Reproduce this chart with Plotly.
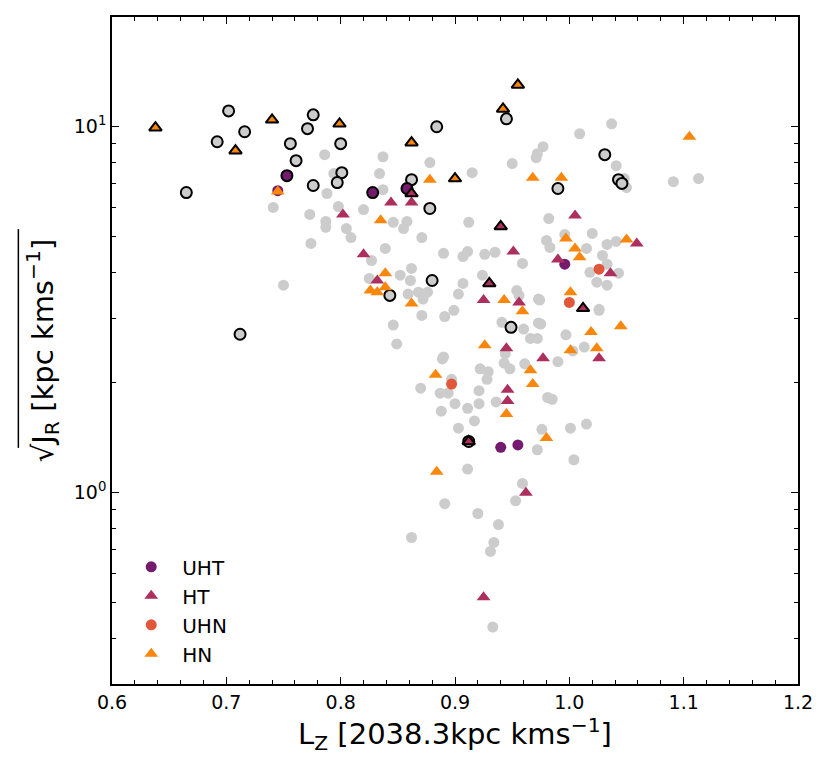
import plotly.graph_objects as go

# ---- background sample (light grey) ----
grey_lz = [0.786, 0.794, 0.788, 0.741, 0.773, 0.798, 0.820, 0.787, 0.787, 0.805,
           0.809, 0.774, 0.750, 0.837, 0.834, 0.837, 0.846, 0.858, 0.855, 0.871,
           0.839, 0.890, 0.827, 0.862, 0.852, 0.825, 0.861, 0.859, 0.868, 0.872,
           0.876, 0.871, 0.891, 0.846, 0.849, 0.878, 0.915, 0.950, 0.977, 0.972,
           0.971, 1.009, 1.037, 1.041, 0.912, 0.982, 0.980, 0.983, 1.020, 1.033,
           1.041, 0.911, 0.907, 0.926, 0.935, 0.959, 1.015, 1.029, 1.033, 1.018,
           1.043, 1.024, 1.033, 0.924, 0.907, 0.903, 0.954, 0.956, 0.973, 1.026,
           0.899, 0.941, 0.973, 0.960, 0.966, 0.972, 0.974, 0.975, 0.997, 0.944,
           0.890, 0.889, 1.003, 1.013, 0.990, 0.943, 0.948, 0.961, 0.922, 0.929,
           0.928, 0.870, 0.887, 0.894, 0.897, 0.921, 0.900, 0.911, 0.921, 0.888,
           0.936, 0.981, 0.985, 0.917, 0.903, 0.976, 1.001, 1.015, 0.972, 1.004,
           0.911, 0.959, 0.953, 0.891, 0.920, 0.938, 0.934, 0.931, 0.862, 0.933,
           1.091, 1.113, 1.048, 1.050, 1.026, 0.996]
grey_jr = [8.39, 7.45, 6.57, 6.02, 5.76, 6.05, 5.94, 5.51, 5.31, 5.27,
           4.98, 4.80, 3.69, 8.28, 7.45, 6.73, 5.48, 5.51, 5.27, 4.98,
           4.65, 4.51, 4.31, 4.10, 3.93, 3.85, 3.80, 3.49, 3.53, 3.38,
           3.53, 3.05, 3.03, 2.87, 2.55, 7.98, 7.49, 7.93, 8.82, 8.44,
           8.23, 9.57, 10.19, 7.83, 5.48, 5.61, 4.89, 4.68, 5.11, 4.77,
           4.86, 4.56, 4.42, 4.48, 4.54, 4.23, 4.65, 4.45, 4.21, 4.00,
           3.98, 3.76, 3.69, 3.93, 3.73, 3.49, 3.57, 3.46, 3.38, 3.15,
           3.15, 2.92, 2.91, 2.80, 2.64, 2.64, 3.36, 2.89, 2.70, 2.40,
           2.35, 2.32, 2.44, 2.50, 2.28, 2.26, 2.18, 2.25, 2.18, 2.14,
           2.04, 1.93, 1.87, 1.87, 2.04, 1.90, 1.75, 1.70, 1.75, 1.67,
           1.77, 1.82, 1.80, 1.57, 1.50, 1.49, 1.50, 1.54, 1.31, 1.23,
           1.16, 1.06, 0.95, 0.933, 0.877, 0.818, 0.731, 0.691, 0.754, 0.429,
           7.08, 7.22, 7.22, 6.82, 3.17, 5.08]

# ---- grey stars with black edge ----
edge_lz = [0.702, 0.692, 0.716, 0.665, 0.712, 0.776, 0.771, 0.756, 0.761, 0.776,
           0.800, 0.801, 0.797, 0.945, 0.884, 0.862, 0.878, 0.880, 0.843, 0.949,
           0.990, 1.031, 1.043, 1.046, 0.912]
edge_jr = [11.05, 9.10, 9.69, 6.61, 2.71, 10.78, 9.88, 8.99, 8.08, 6.91,
           8.99, 7.49, 7.04, 10.51, 10.0, 7.17, 5.98, 3.80, 3.46, 2.83,
           6.78, 8.39, 7.17, 7.00, 1.38]

# ---- classified stars ----
uht_lz = [0.745, 0.996, 0.940, 0.955]
uht_jr = [6.69, 4.21, 1.33, 1.35]
uht_edge_lz = [0.753, 0.828, 0.858]
uht_edge_jr = [7.35, 6.61, 6.78]

ht_lz = [0.802, 0.844, 0.862, 0.820, 0.951, 0.990, 0.832, 0.925, 0.956, 0.945,
         0.977, 1.005, 1.059, 1.036, 1.026, 0.946, 0.946, 0.962, 0.925]
ht_jr = [5.76, 6.21, 6.21, 4.48, 4.56, 4.34, 3.80, 3.36, 3.31, 2.48,
         2.33, 5.72, 4.80, 3.98, 2.33, 1.91, 1.78, 1.00, 0.518]
ht_edge_lz = [0.862, 0.940, 0.930, 1.012, 0.912]
ht_edge_jr = [6.57, 5.34, 3.73, 3.19, 1.38]

uhn_lz = [1.026, 1.000, 0.897]
uhn_jr = [4.08, 3.31, 1.98]

hn_lz = [0.745, 0.878, 0.968, 0.993, 0.835, 0.839, 0.826, 0.832, 0.839, 0.862,
         0.943, 0.959, 0.997, 1.005, 1.009, 1.050, 1.105, 1.001, 1.045, 1.019,
         1.024, 1.001, 0.926, 0.966, 0.968, 0.945, 0.980, 0.883, 0.884]
hn_jr = [6.65, 7.17, 7.26, 7.26, 5.55, 3.98, 3.57, 3.53, 3.64, 3.29,
         3.36, 3.13, 4.95, 4.65, 4.40, 4.92, 9.39, 3.53, 2.85, 2.75,
         2.48, 2.45, 2.53, 2.16, 1.98, 1.64, 1.41, 2.10, 1.14]
hn_edge_lz = [0.638, 0.708, 0.740, 0.799, 0.955, 0.942, 0.862, 0.900]
hn_edge_jr = [9.94, 8.60, 10.45, 10.19, 13.01, 11.19, 9.05, 7.22]

GREY = '#cccccc'
C_UHT = '#751b6d'
C_HT = '#ad2f5e'
C_UHN = '#e0573a'
C_HN = '#fb860c'

fig = go.Figure()

fig.add_trace(go.Scatter(x=grey_lz, y=grey_jr, mode='markers', showlegend=False,
                         marker=dict(color=GREY, size=11, line=dict(width=0))))
fig.add_trace(go.Scatter(x=edge_lz, y=edge_jr, mode='markers', showlegend=False,
                         marker=dict(color=GREY, size=11, line=dict(color='black', width=2))))

fig.add_trace(go.Scatter(x=uht_lz, y=uht_jr, mode='markers', name='UHT', legendgroup='a',
                         marker=dict(color=C_UHT, size=11, symbol='circle', line=dict(width=0))))
fig.add_trace(go.Scatter(x=ht_lz, y=ht_jr, mode='markers', name='HT', legendgroup='b',
                         marker=dict(color=C_HT, size=12, symbol='triangle-up', line=dict(width=0))))
fig.add_trace(go.Scatter(x=uhn_lz, y=uhn_jr, mode='markers', name='UHN', legendgroup='c',
                         marker=dict(color=C_UHN, size=11, symbol='circle', line=dict(width=0))))
fig.add_trace(go.Scatter(x=hn_lz, y=hn_jr, mode='markers', name='HN', legendgroup='d',
                         marker=dict(color=C_HN, size=12, symbol='triangle-up', line=dict(width=0))))

# outlined members of each class
fig.add_trace(go.Scatter(x=uht_edge_lz, y=uht_edge_jr, mode='markers', showlegend=False,
                         marker=dict(color=C_UHT, size=11, line=dict(color='black', width=2))))
fig.add_trace(go.Scatter(x=ht_edge_lz, y=ht_edge_jr, mode='markers', showlegend=False,
                         marker=dict(color=C_HT, size=11, symbol='triangle-up',
                                     line=dict(color='black', width=2))))
fig.add_trace(go.Scatter(x=hn_edge_lz, y=hn_edge_jr, mode='markers', showlegend=False,
                         marker=dict(color=C_HN, size=11, symbol='triangle-up',
                                     line=dict(color='black', width=2))))

axis_font = dict(family='DejaVu Sans', size=19, color='black')

# the bar of the square-root sign over the y title
fig.add_shape(type='line', xref='paper', yref='paper',
              x0=-0.1365, x1=-0.1365, y0=0.354, y1=0.682,
              line=dict(color='black', width=1.5))

fig.update_layout(
    width=830, height=766,
    margin=dict(l=104, r=40, t=7, b=90),
    plot_bgcolor='white', paper_bgcolor='white',
    font=dict(family='DejaVu Sans', color='black'),
    legend=dict(x=0.012, y=0.016, xanchor='left', yanchor='bottom',
                bgcolor='rgba(0,0,0,0)', font=dict(size=20, family='DejaVu Sans'),
                itemwidth=52, tracegroupgap=0),
    xaxis=dict(
        range=[0.6, 1.2], showgrid=False, zeroline=False,
        showline=True, linecolor='black', linewidth=1.5, mirror='ticks',
        ticks='inside', ticklen=7, tickwidth=1.3, tickcolor='black',
        tickvals=[0.6, 0.7, 0.8, 0.9, 1.0, 1.1, 1.2],
        ticktext=['0.6', '0.7', '0.8', '0.9', '1.0', '1.1', '1.2'],
        tickfont=axis_font,
        minor=dict(ticks='inside', ticklen=4, tickwidth=1, tickcolor='black', dtick=0.02,
                   tick0=0.6, showgrid=False),
        title=dict(text='L<sub>Z</sub> [2038.3kpc kms<sup>−1</sup>]',
                   font=dict(size=29, family='DejaVu Sans'), standoff=10),
    ),
    yaxis=dict(
        type='log', range=[-0.523, 1.30], showgrid=False, zeroline=False,
        showline=True, linecolor='black', linewidth=1.5, mirror='ticks',
        ticks='inside', ticklen=7, tickwidth=1.3, tickcolor='black',
        tickvals=[1, 10], ticktext=['10<sup>0</sup>', '10<sup>1</sup>'],
        tickfont=axis_font,
        minor=dict(ticks='inside', ticklen=4, tickwidth=1, tickcolor='black',
                   tickmode='array',
                   tickvals=[0.3, 0.4, 0.5, 0.6, 0.7, 0.8, 0.9, 2, 3, 4, 5, 6, 7, 8, 9, 20],
                   showgrid=False),
        title=dict(text='√J<sub>R</sub> [kpc kms<sup>−1</sup>]',
                   font=dict(size=29, family='DejaVu Sans'), standoff=12),
    ),
)

fig.write_html("out.html")
